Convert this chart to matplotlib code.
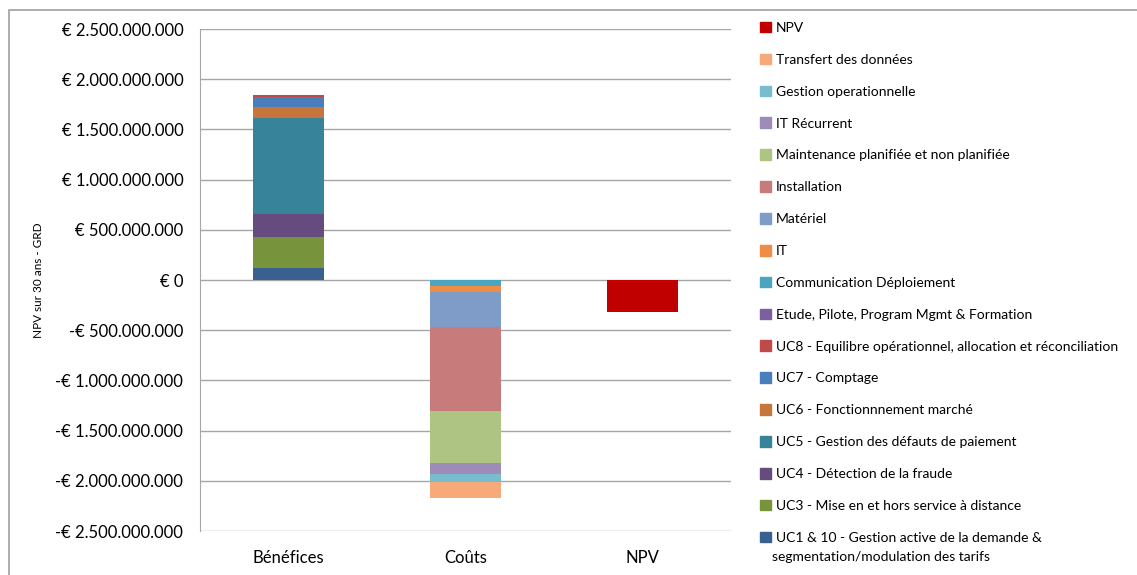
import numpy as np
import matplotlib.pyplot as plt
from matplotlib.patches import Patch, Rectangle
from matplotlib.ticker import FuncFormatter

plt.rcParams['font.family'] = ['Lato', 'DejaVu Sans']

categories = ["Bénéfices", "Coûts", "NPV"]

# benefit components (positive, stacked from the bottom up), in EUR
benefit_labels = [
    "UC1 & 10 - Gestion active de la demande &",
    "UC3 - Mise en et hors service à distance",
    "UC4 - Détection de la fraude",
    "UC5 - Gestion des défauts de paiement",
    "UC6 - Fonctionnnement marché",
    "UC7 - Comptage",
    "UC8 - Equilibre opérationnel, allocation et réconciliation",
]
benefit_label_cont = "segmentation/modulation des tarifs"
benefit_values = [122e6, 305e6, 232e6, 954e6, 110e6, 100e6, 16e6]
benefit_colors = ["#3A6090", "#77933C", "#664B7E", "#37849A",
                  "#C6763A", "#4A7EBB", "#BE4B48"]

# cost components (negative, stacked downward from zero)
cost_labels = [
    "Etude, Pilote, Program Mgmt & Formation",
    "Communication Déploiement",
    "IT",
    "Matériel",
    "Installation",
    "Maintenance planifiée et non planifiée",
    "IT Récurrent",
    "Gestion operationnelle",
    "Transfert des données",
]
cost_values = [-3e6, -60e6, -53e6, -347e6, -837e6, -523e6, -113e6, -73e6, -167e6]
cost_colors = ["#7C5FA0", "#4BA5BE", "#EE8D46", "#7F9CC8", "#C77B7B",
               "#ADC482", "#9D8BB8", "#78BCCF", "#F8A97A"]

npv_value = -322e6
npv_color = "#C00000"

fig = plt.figure(figsize=(11.37, 5.75), dpi=100)
ax = fig.add_axes([0.1759, 0.0765, 0.467, 0.873])

x = np.arange(len(categories))
width = 0.40

bottom = 0.0
for val, col in zip(benefit_values, benefit_colors):
    ax.bar(x[0], val, width, bottom=bottom, color=col, linewidth=0, zorder=3)
    bottom += val

bottom = 0.0
for val, col in zip(cost_values, cost_colors):
    ax.bar(x[1], val, width, bottom=bottom, color=col, linewidth=0, zorder=3)
    bottom += val

ax.bar(x[2], npv_value, width, color=npv_color, linewidth=0, zorder=3)

ax.set_xlim(-0.5, 2.5)
ax.set_ylim(-2.5e9, 2.5e9)
ax.set_yticks(np.arange(-2.5e9, 2.51e9, 0.5e9))


def euro(v, pos):
    if abs(v) < 1:
        return "€ 0"
    s = "{:,.0f}".format(abs(v)).replace(",", ".")
    return ("-€ " if v < 0 else "€ ") + s


ax.yaxis.set_major_formatter(FuncFormatter(euro))
ax.set_xticks(x)
ax.set_xticklabels(categories, fontsize=12)
ax.tick_params(axis='y', labelsize=12, length=0, pad=12)
ax.tick_params(axis='x', length=0, pad=14)
ax.yaxis.grid(True, color="#A6A6A6", linewidth=1.0, zorder=0)
ax.set_axisbelow(True)
for side in ["top", "right", "bottom"]:
    ax.spines[side].set_visible(False)
ax.spines["left"].set_color("#A6A6A6")
ax.set_ylabel("NPV sur 30 ans - GRD", fontsize=8.5, labelpad=8)

# legend, top entry first as in the stacking order reversed
handles = [Patch(color=npv_color, label="NPV")]
for lab, col in zip(cost_labels[::-1], cost_colors[::-1]):
    handles.append(Patch(color=col, label=lab))
for lab, col in zip(benefit_labels[::-1], benefit_colors[::-1]):
    handles.append(Patch(color=col, label=lab))

leg = fig.legend(handles=handles, loc="upper left",
                 bbox_to_anchor=(0.668, 0.962),
                 frameon=False, fontsize=10, handlelength=0.8,
                 handleheight=0.8, handletextpad=0.4, labelspacing=1.42,
                 borderaxespad=0, borderpad=0)

# wrap the last legend entry onto a second line, aligned under its text
fig.canvas.draw()
last = leg.get_texts()[-1].get_window_extent()
fx, fy = fig.transFigure.inverted().transform((last.x0 - 4, last.y0 - 19))
fig.text(fx, fy, benefit_label_cont, fontsize=10, ha="left", va="bottom")

# outer chart border
fig.patches.append(Rectangle((9 / 1137, -0.1), 1.2, (575 - 10) / 575 + 0.1,
                             transform=fig.transFigure, fill=False,
                             edgecolor="#A0A0A0", linewidth=1.2))

fig.savefig("out.png", dpi=100)
